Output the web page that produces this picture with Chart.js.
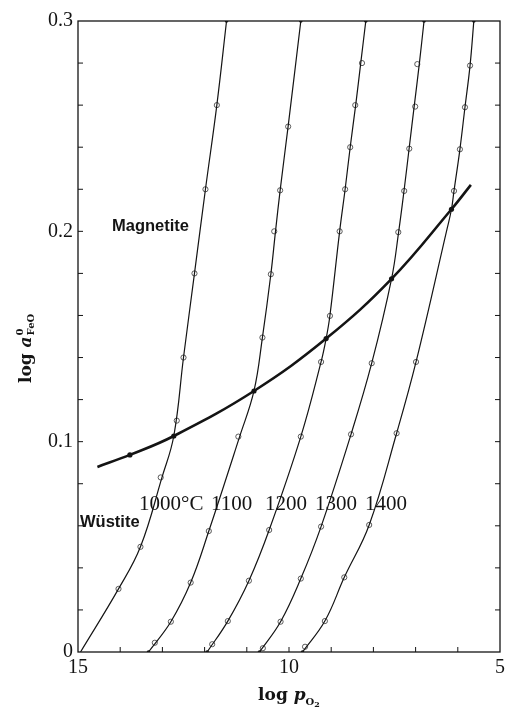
<!DOCTYPE html>
<html>
<head>
<meta charset="utf-8">
<script src="https://cdn.jsdelivr.net/npm/chart.js@4.4.0/dist/chart.umd.min.js"></script>
<style>
  html, body { margin: 0; padding: 0; background: #fff; }
  #wrap { width: 505px; height: 714px; }
</style>
</head>
<body>
<div id="wrap"><canvas id="myChart" width="505" height="714"></canvas></div>
<script>
// x = magnitude of log pO2 (axis runs 15 -> 5), y = log a0(FeO)

// traced curves, one per temperature (they bend where they cross the boundary)
const curve1000 = [[14.94, 0], [14.04, 0.030], [13.52, 0.050], [13.01, 0.083], [12.73, 0.1027],
  [12.50, 0.140], [12.24, 0.180], [11.98, 0.220], [11.71, 0.260], [11.48, 0.300]];
const curve1100 = [[13.33, 0], [12.80, 0.0144], [12.33, 0.033], [11.90, 0.0575],
  [11.17, 0.1024], [10.83, 0.1241], [10.63, 0.1495], [10.43, 0.1796], [10.32, 0.200],
  [10.21, 0.2195], [10.02, 0.250], [9.72, 0.300]];
const curve1200 = [[11.94, 0], [11.45, 0.0147], [10.95, 0.0339], [10.47, 0.058],
  [9.72, 0.1024], [9.24, 0.1379], [9.12, 0.149], [9.03, 0.160], [8.80, 0.200], [8.67, 0.220],
  [8.55, 0.240], [8.42, 0.260], [8.30, 0.280], [8.18, 0.300]];
const curve1300 = [[10.70, 0], [10.20, 0.0144], [9.72, 0.0349], [9.24, 0.0596],
  [8.53, 0.1035], [8.04, 0.1373], [7.57, 0.1774], [7.40, 0.200], [7.27, 0.220], [7.15, 0.240],
  [7.03, 0.260], [6.91, 0.280], [6.80, 0.300]];
const curve1400 = [[9.68, 0], [9.15, 0.0147], [8.69, 0.0355], [8.10, 0.0604],
  [7.45, 0.104], [6.99, 0.1379], [6.26, 0.2007], [6.15, 0.2105], [6.09, 0.2192], [5.95, 0.239],
  [5.83, 0.259], [5.71, 0.2788], [5.62, 0.300]];

// measured points (open circles)
const circles1000 = [[14.04, 0.030], [13.52, 0.050], [13.04, 0.083], [12.66, 0.110], [12.50, 0.140],
  [12.24, 0.180], [11.98, 0.220], [11.71, 0.260]];
const circles1100 = [[13.18, 0.0044], [12.80, 0.0144], [12.33, 0.033], [11.90, 0.0575], [11.20, 0.1024],
  [10.63, 0.1495], [10.43, 0.1796], [10.35, 0.200], [10.21, 0.2195], [10.02, 0.2498]];
const circles1200 = [[11.82, 0.0037], [11.45, 0.0147], [10.95, 0.0339], [10.47, 0.058], [9.72, 0.1024],
  [9.24, 0.1379], [9.03, 0.1598], [8.80, 0.200], [8.67, 0.220], [8.55, 0.240], [8.43, 0.260], [8.27, 0.280]];
const circles1300 = [[10.62, 0.0018], [10.20, 0.0144], [9.72, 0.0349], [9.24, 0.0596], [8.53, 0.1035],
  [8.04, 0.1373], [7.41, 0.1996], [7.27, 0.2192], [7.15, 0.2393], [7.01, 0.2593], [6.96, 0.2795]];
const circles1400 = [[9.62, 0.0025], [9.15, 0.0147], [8.69, 0.0355], [8.10, 0.0604], [7.45, 0.104],
  [6.99, 0.1379], [6.09, 0.2192], [5.95, 0.239], [5.83, 0.259], [5.71, 0.2788]];

// curve ends on the frame (small dots)
const curveEnds = [[11.48, 0.3], [9.72, 0.3], [8.18, 0.3], [6.80, 0.3], [5.62, 0.3],
  [13.33, 0], [11.94, 0], [10.70, 0], [9.68, 0]];

// magnetite / wustite boundary
const boundary = [[14.54, 0.0880], [13.77, 0.0937], [12.73, 0.1027], [10.83, 0.1241],
  [9.12, 0.149], [7.57, 0.1774], [6.15, 0.2105], [5.69, 0.2221]];

const tempLabels = ['1000\u00b0C', '1100', '1200', '1300', '1400'];
const xTickLabels = [15, 10, 5];
const xMinorTicks = [6, 7, 8, 9, 10, 11, 12, 13, 14];
const yTickLabels = [0, 0.1, 0.2, 0.3];
const yMinorTicks = [0.02, 0.04, 0.06, 0.08, 0.1, 0.12, 0.14, 0.16, 0.18, 0.2, 0.22, 0.24, 0.26, 0.28];

const toXY = arr => arr.map(p => ({ x: p[0], y: p[1] }));
const INK = '#141414';

const curves = [curve1000, curve1100, curve1200, curve1300, curve1400];
const circles = [circles1000, circles1100, circles1200, circles1300, circles1400];

const datasets = [];
curves.forEach((c, i) => {
    datasets.push({
        label: tempLabels[i],
        data: toXY(c),
        showLine: true,
        borderColor: INK,
        borderWidth: 1.2,
        pointRadius: 0,
        tension: 0.4
    });
});
circles.forEach((c, i) => {
    datasets.push({
        label: tempLabels[i] + ' data',
        data: toXY(c),
        showLine: false,
        pointStyle: 'circle',
        pointRadius: 2.6,
        pointBorderWidth: 0.8,
        pointBorderColor: '#333',
        pointBackgroundColor: 'rgba(255,255,255,0)'
    });
});
datasets.push({
    label: 'ends',
    data: toXY(curveEnds),
    showLine: false,
    pointRadius: 1.8,
    pointBorderWidth: 0,
    pointBackgroundColor: INK
});
datasets.push({
    label: 'boundary',
    data: toXY(boundary),
    showLine: true,
    borderColor: INK,
    borderWidth: 2.6,
    tension: 0.4,
    pointRadius: ctx => (ctx.dataIndex === 0 || ctx.dataIndex === boundary.length - 1) ? 0 : 2.6,
    pointBorderWidth: 0,
    pointBackgroundColor: INK
});

// frame, inward ticks, annotations and axis titles
const frameAndText = {
    id: 'frameAndText',
    afterDraw(chart) {
        const { ctx, chartArea: a, scales: { x, y } } = chart;
        ctx.save();
        ctx.strokeStyle = INK;
        ctx.lineWidth = 1.3;
        ctx.strokeRect(a.left, a.top, a.right - a.left, a.bottom - a.top);

        ctx.lineWidth = 1;
        ctx.beginPath();
        xMinorTicks.forEach(v => {
            const px = x.getPixelForValue(v);
            ctx.moveTo(px, a.bottom);
            ctx.lineTo(px, a.bottom - 5);
        });
        yMinorTicks.forEach(v => {
            const py = y.getPixelForValue(v);
            ctx.moveTo(a.left, py);
            ctx.lineTo(a.left + 5, py);
            ctx.moveTo(a.right, py);
            ctx.lineTo(a.right - 5, py);
        });
        ctx.stroke();

        ctx.fillStyle = INK;
        ctx.textBaseline = 'alphabetic';
        ctx.textAlign = 'left';

        // phase names
        ctx.font = 'bold 16.5px "Liberation Sans", Arial, sans-serif';
        ctx.fillText('Magnetite', 112, 231);
        ctx.fillText('W\u00fcstite', 80, 527);

        // temperature labels
        ctx.font = '21px "Liberation Serif", serif';
        const tempX = [139, 211, 265, 315, 365];
        tempLabels.forEach((t, i) => ctx.fillText(t, tempX[i], 510));

        // x title: log pO2
        const big = 'bold 17px "DejaVu Serif", serif';
        const bigIt = 'bold italic 17px "DejaVu Serif", serif';
        const small = 'bold 10px "DejaVu Serif", serif';
        ctx.font = big; const w1 = ctx.measureText('log ').width;
        ctx.font = bigIt; const w2 = ctx.measureText('p').width;
        ctx.font = small; const w3 = ctx.measureText('O').width; const w4 = ctx.measureText('2').width;
        const total = w1 + w2 + w3 + w4 * 0.8;
        let sx = (a.left + a.right) / 2 - total / 2;
        const by = 700;
        ctx.font = big; ctx.fillText('log ', sx, by); sx += w1;
        ctx.font = bigIt; ctx.fillText('p', sx, by); sx += w2;
        ctx.font = small; ctx.fillText('O', sx, by + 5); sx += w3;
        ctx.font = 'bold 8px "DejaVu Serif", serif'; ctx.fillText('2', sx, by + 7);

        // y title: log a0 FeO (rotated)
        ctx.translate(31, 383);
        ctx.rotate(-Math.PI / 2);
        let tx = 0;
        ctx.font = big; ctx.fillText('log ', tx, 0); tx += ctx.measureText('log ').width;
        ctx.font = bigIt; ctx.fillText('a', tx, 0); tx += ctx.measureText('a').width + 1;
        ctx.font = small;
        ctx.fillText('0', tx, -8);
        ctx.fillText('FeO', tx, 3);
        ctx.restore();
    }
};

new Chart(document.getElementById('myChart'), {
    type: 'scatter',
    data: { datasets: datasets },
    options: {
        responsive: false,
        animation: false,
        events: [],
        layout: { padding: { top: 21, right: 5, left: 0, bottom: 0 } },
        plugins: { legend: { display: false }, tooltip: { enabled: false } },
        scales: {
            x: {
                type: 'linear',
                min: 5,
                max: 15,
                reverse: true,
                grid: { display: false, drawTicks: false },
                border: { display: false },
                afterBuildTicks: s => { s.ticks = xTickLabels.map(v => ({ value: v })); },
                ticks: {
                    color: INK,
                    padding: 4,
                    maxRotation: 0,
                    font: { family: '"Liberation Serif", serif', size: 20 },
                    callback: v => String(v)
                },
                afterFit: s => { s.height = 62; s.paddingLeft = 0; s.paddingRight = 0; }
            },
            y: {
                min: 0,
                max: 0.3,
                grid: { display: false, drawTicks: false },
                border: { display: false },
                afterBuildTicks: s => { s.ticks = yTickLabels.map(v => ({ value: v })); },
                ticks: {
                    color: INK,
                    padding: 5,
                    font: { family: '"Liberation Serif", serif', size: 20 },
                    callback: v => v === 0 ? '0' : v.toFixed(1)
                },
                afterFit: s => { s.width = 78; s.paddingTop = 0; s.paddingBottom = 0; }
            }
        }
    },
    plugins: [frameAndText]
});
</script>
</body>
</html>
